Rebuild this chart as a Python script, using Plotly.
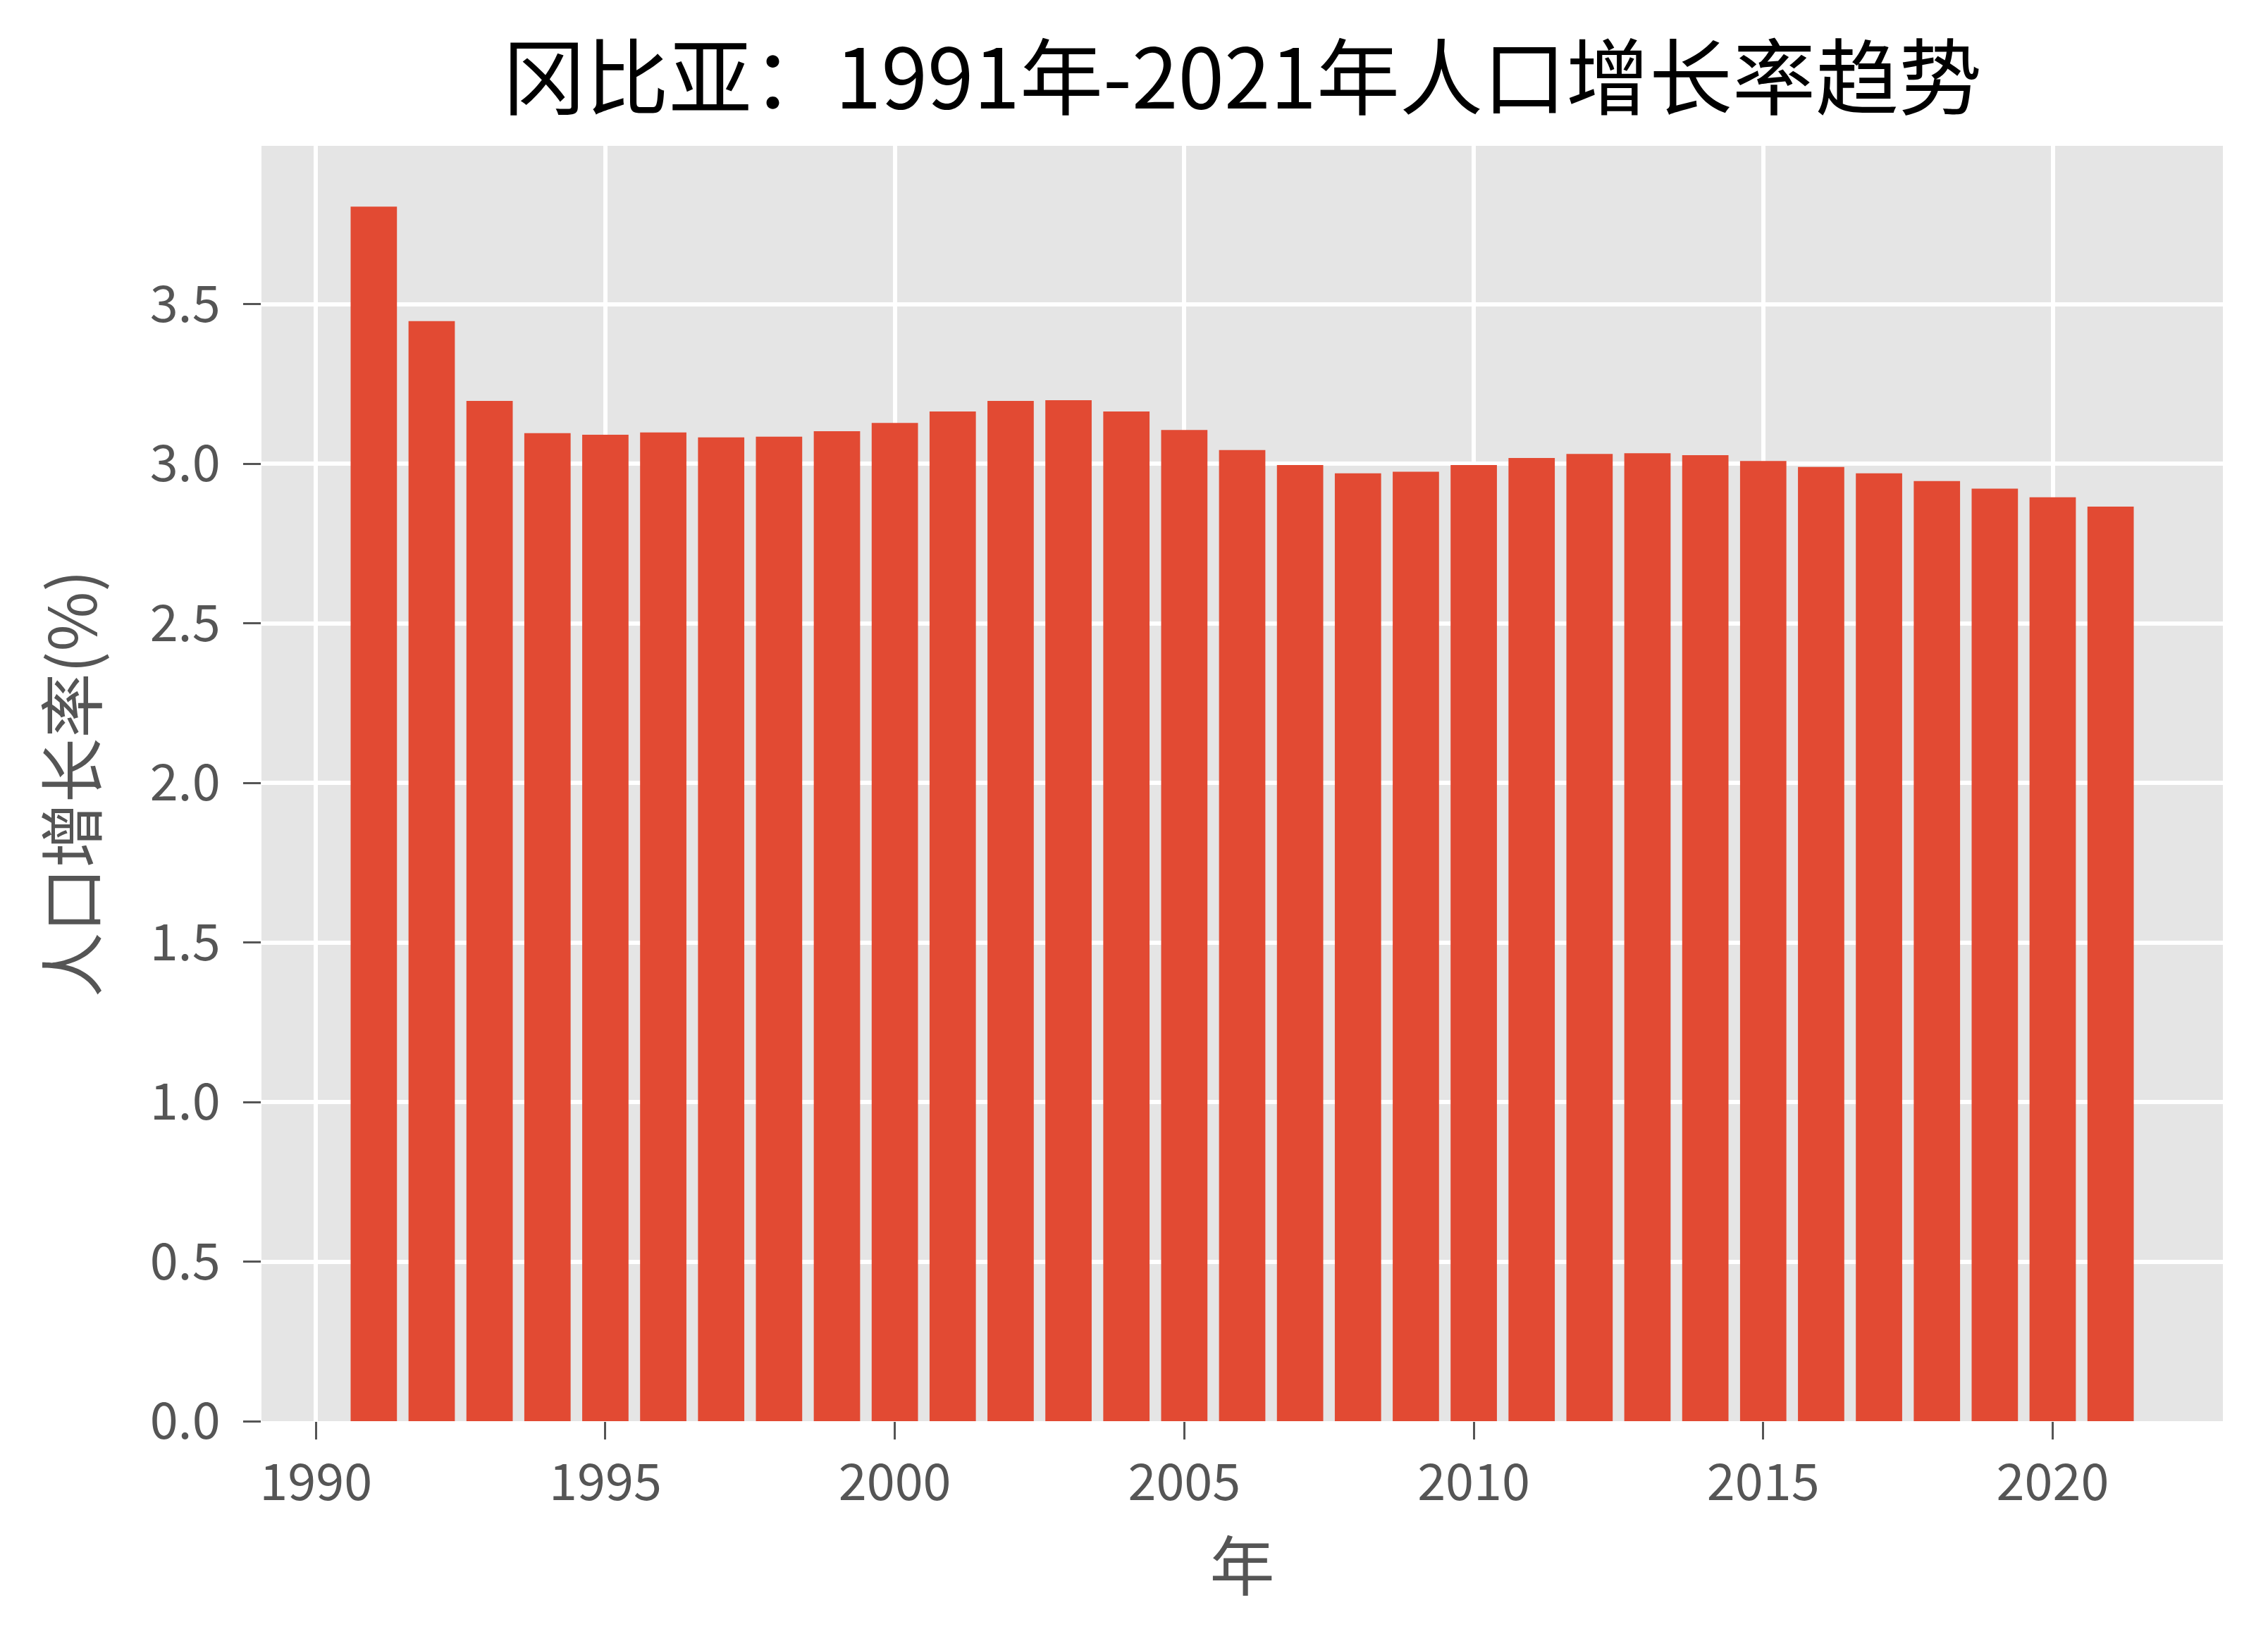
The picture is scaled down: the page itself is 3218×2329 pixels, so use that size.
import plotly.graph_objects as go

years = list(range(1991, 2022))
growth = [3.806, 3.447, 3.197, 3.096, 3.091, 3.098, 3.083, 3.085, 3.102, 3.128,
          3.164, 3.197, 3.199, 3.164, 3.106, 3.043, 2.996, 2.970, 2.975, 2.996,
          3.018, 3.031, 3.033, 3.027, 3.009, 2.990, 2.970, 2.946, 2.922, 2.895,
          2.866]
x_ticks = [1990, 1995, 2000, 2005, 2010, 2015, 2020]
y_ticks = [0.0, 0.5, 1.0, 1.5, 2.0, 2.5, 3.0, 3.5]

title = "冈比亚：1991年-2021年人口增长率趋势"
x_title = "年"
y_title = "人口增长率(%)"

FONT = "Noto Sans CJK SC"
W, H = 3218, 2329
L, R, T, B = 371, 64, 207, 312

fig = go.Figure(go.Bar(x=years, y=growth, marker_color="#E24A33",
                       marker_line_width=0))

xmin, xmax = years[0] - 0.4, years[-1] + 0.4
xpad = (xmax - xmin) * 0.05
ymax = max(growth) * 1.05

fig.update_layout(
    width=W, height=H,
    margin=dict(l=L, r=R, t=T, b=B, autoexpand=False),
    paper_bgcolor="white", plot_bgcolor="#E5E5E5",
    bargap=0.2, showlegend=False,
    font=dict(family=FONT, color="#555555"),
    title=dict(text=title, x=(L + (W - L - R) / 2) / W, xanchor="center",
               y=1 - 113 / H, yanchor="middle",
               font=dict(family=FONT, size=118, color="black")),
)
fig.update_xaxes(
    range=[xmin - xpad, xmax + xpad], tickvals=x_ticks,
    ticktext=[str(v) for v in x_ticks],
    showgrid=True, gridcolor="white", gridwidth=6, zeroline=False,
    ticks="outside", ticklen=25, tickwidth=3, tickcolor="#555555",
    tickfont=dict(family=FONT, size=72, color="#555555"),
    title=dict(text=x_title, standoff=40, font=dict(family=FONT, size=92, color="#555555")),
)
fig.update_yaxes(
    range=[0, ymax], tickvals=y_ticks, ticktext=[f"{v:.1f}" for v in y_ticks],
    showgrid=True, gridcolor="white", gridwidth=6, zeroline=False,
    ticks="outside", ticklen=25, tickwidth=3, tickcolor="#555555",
    ticklabelstandoff=18,
    tickfont=dict(family=FONT, size=72, color="#555555"),
    title=dict(text=y_title, standoff=44, font=dict(family=FONT, size=92, color="#555555")),
)

fig.write_html("out.html")
